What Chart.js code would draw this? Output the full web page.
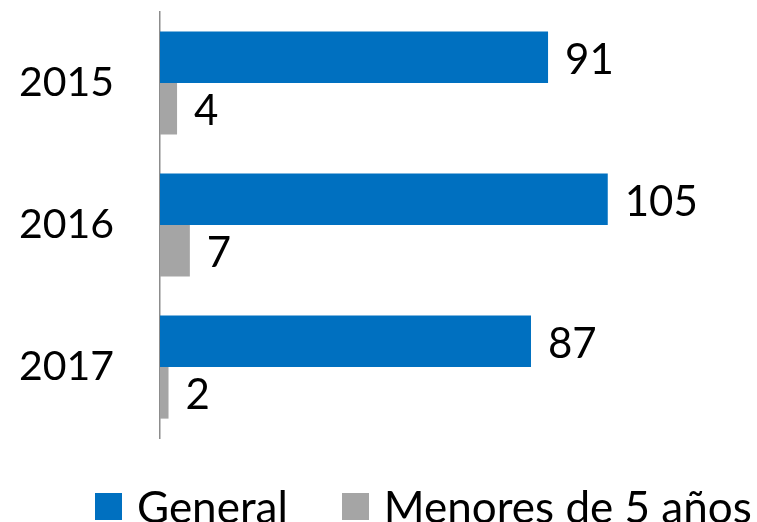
<!DOCTYPE html>
<html>
<head>
<meta charset="utf-8">
<script src="https://cdn.jsdelivr.net/npm/chart.js@4"></script>
<style>
  html, body { margin: 0; padding: 0; background: #fff; overflow: hidden; }
  #wrap { position: relative; width: 757px; height: 522px; overflow: hidden; }
  #legend { position: absolute; left: 95px; top: 480px; width: 700px; display: flex; align-items: center;
            font-family: Lato, sans-serif; font-size: 44px; color: #000; line-height: 52px; white-space: nowrap; }
  .item { display: flex; align-items: center; margin-right: 54px; flex: none; }
  .swatch { width: 27px; height: 27px; margin-right: 15px; margin-top: 1px; flex: none; }
</style>
</head>
<body>
<div id="wrap">
  <canvas id="barChart" width="757" height="522"></canvas>
  <div id="legend"></div>
</div>
<script>
const years = ["2015", "2016", "2017"];
const general = [91, 105, 87];
const menores = [4, 7, 2];

const FONT = "Lato";

// draws the value next to the end of each bar
const valueLabels = {
  id: "valueLabels",
  afterDatasetsDraw(chart) {
    const ctx = chart.ctx;
    ctx.save();
    ctx.font = `42px ${FONT}`;
    ctx.fillStyle = "#000";
    ctx.textBaseline = "middle";
    ctx.textAlign = "left";
    chart.data.datasets.forEach((ds, i) => {
      chart.getDatasetMeta(i).data.forEach((bar, j) => {
        ctx.fillText(ds.data[j], bar.x + 17, bar.y + 3);
      });
    });
    ctx.restore();
  },
};

const chart = new Chart(document.getElementById("barChart"), {
  type: "bar",
  data: {
    labels: years,
    datasets: [
      { label: "General", data: general, backgroundColor: "#0070C0", categoryPercentage: 0.727, barPercentage: 1 },
      { label: "Menores de 5 años", data: menores, backgroundColor: "#A5A5A5", categoryPercentage: 0.727, barPercentage: 1 },
    ],
  },
  options: {
    indexAxis: "y",
    responsive: false,
    animation: false,
    layout: { padding: { top: 12, right: 0, bottom: 84, left: 19 } },
    scales: {
      x: { display: false, min: 0, max: 140 },
      y: {
        grid: { display: false, drawTicks: false },
        border: { display: true, color: "#8c8c8c", width: 1.5 },
        ticks: {
          color: "#000",
          font: { family: FONT, size: 41, lineHeight: 0.5 },
          padding: 0,
          crossAlign: "far",
        },
        afterFit(scale) { scale.width = 141; },
      },
    },
    plugins: {
      tooltip: { enabled: false },
      legend: { display: false },
    },
  },
  plugins: [valueLabels],
});

// html legend built from the datasets
const legendEl = document.getElementById("legend");
chart.data.datasets.forEach((ds) => {
  const item = document.createElement("div");
  item.className = "item";
  const sw = document.createElement("span");
  sw.className = "swatch";
  sw.style.background = ds.backgroundColor;
  const txt = document.createElement("span");
  txt.textContent = ds.label;
  item.append(sw, txt);
  legendEl.append(item);
});
</script>
</body>
</html>
